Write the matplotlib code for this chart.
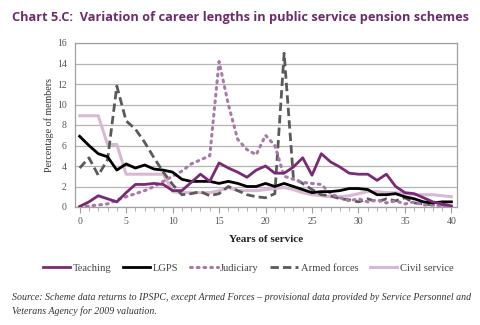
import numpy as np
import matplotlib.pyplot as plt

years = np.arange(0, 41)

teaching = [0.05, 0.5, 1.1, 0.8, 0.5, 1.4, 2.2, 2.2, 2.3, 2.2, 1.6, 1.6, 2.4, 3.2, 2.5,
            4.3, 3.8, 3.4, 2.9, 3.6, 4.0, 3.3, 3.3, 3.9, 4.8, 3.1, 5.2, 4.4, 3.9, 3.3,
            3.2, 3.2, 2.6, 3.2, 2.0, 1.4, 1.3, 0.9, 0.5, 0.3, 0.1]
lgps = [6.9, 6.0, 5.2, 4.9, 3.6, 4.2, 3.8, 4.1, 3.7, 3.6, 3.4, 2.7, 2.5, 2.5, 2.5,
        2.3, 2.5, 2.3, 2.0, 2.0, 2.3, 2.0, 2.3, 2.0, 1.7, 1.4, 1.5, 1.5, 1.6, 1.8,
        1.8, 1.7, 1.2, 1.2, 1.3, 1.0, 0.8, 0.5, 0.4, 0.5, 0.5]
judiciary = [0.0, 0.1, 0.2, 0.3, 0.7, 1.0, 1.3, 1.6, 2.0, 2.5, 3.0, 3.5, 4.2, 4.6, 5.0,
             14.2, 10.0, 6.6, 5.6, 5.1, 7.0, 6.0, 3.0, 2.7, 2.4, 2.3, 2.2, 1.3, 0.9, 0.6,
             0.8, 0.5, 0.7, 0.4, 0.6, 0.3, 0.5, 0.2, 0.2, 0.1, 0.0]
armed = [3.8, 4.8, 3.1, 4.6, 11.8, 8.4, 7.6, 6.3, 4.8, 3.4, 2.2, 1.2, 1.3, 1.5, 1.1,
         1.3, 2.0, 1.6, 1.2, 1.0, 0.9, 1.3, 15.0, 2.8, 2.3, 1.7, 1.2, 1.1, 0.8, 0.7,
         0.5, 0.8, 0.5, 0.8, 0.6, 0.9, 0.4, 0.3, 0.2, 0.2, 0.1]
civil = [8.9, 8.9, 8.9, 6.1, 6.1, 3.2, 3.2, 3.2, 3.2, 3.2, 1.5, 1.4, 1.4, 1.4, 1.4,
         1.6, 1.9, 1.6, 1.6, 1.6, 1.7, 1.8, 1.9, 1.7, 1.4, 1.2, 1.1, 1.0, 1.0, 1.1,
         1.3, 1.5, 1.5, 1.4, 1.4, 1.3, 1.2, 1.2, 1.2, 1.1, 1.0]

serif = ["Liberation Serif", "DejaVu Serif"]

fig = plt.figure(figsize=(4.8, 3.25), dpi=100)
ax = fig.add_axes([75/480, 1 - 207/325, (457-75)/480, (207-43)/325])

ax.plot(years, teaching, color="#7a2a74", lw=2, label="Teaching", zorder=5)
ax.plot(years, lgps, color="black", lw=2, label="LGPS", zorder=4)
ax.plot(years, judiciary, color="#a87aa8", lw=2.2, linestyle=(0, (0.6, 1.6)),
        dash_capstyle="round", label="Judiciary", zorder=3)
ax.plot(years, armed, color="#5a5a5a", lw=2, linestyle=(0, (3, 1.5)), label="Armed forces", zorder=2)
ax.plot(years, civil, color="#d9b8d5", lw=2.2, label="Civil service", zorder=1)

ax.set_xlim(-0.5, 40.6)
ax.set_ylim(0, 16)
ax.set_yticks(np.arange(0, 17, 2))
ax.set_xticks(np.arange(0, 41, 5))
ax.set_xticks(np.arange(0, 41, 1), minor=True)
ax.yaxis.grid(True, color="#b5b5b5", lw=0.9)
ax.set_axisbelow(True)
for s in ax.spines.values():
    s.set_color("#a0a0a0")
    s.set_linewidth(0.9)
ax.tick_params(axis="y", length=0, labelsize=7, labelcolor="#555555", pad=6)
ax.tick_params(axis="x", which="both", direction="out", color="#a0a0a0",
               labelsize=7, labelcolor="#555555")
ax.tick_params(axis="x", which="major", length=4)
ax.tick_params(axis="x", which="minor", length=3)
for lab in ax.get_xticklabels() + ax.get_yticklabels():
    lab.set_family(serif)

ax.set_ylabel("Percentage of members", family=serif, fontsize=7.2, color="#333333", labelpad=2)
ax.set_xlabel("Years of service", family=serif, fontsize=8, fontweight="bold", color="#222222", labelpad=6)

fig.text(12/480, 1 - 18/325, "Chart 5.C:  Variation of career lengths in public service pension schemes",
         family=["Open Sans", "DejaVu Sans"], fontweight="bold", fontsize=9.2, color="#6b2c6b",
         va="center", ha="left")

leg = fig.legend(loc="center", bbox_to_anchor=(248/480, 1 - 268/325), ncol=5, frameon=False,
                 prop={"family": serif, "size": 7.6}, handlelength=2.6, handletextpad=0.25,
                 columnspacing=1.1, labelcolor="#444444")

fig.text(12/480, 1 - 297/325,
         "Source: Scheme data returns to IPSPC, except Armed Forces \u2013 provisional data provided by Service Personnel and",
         family=serif, style="italic", fontsize=7.1, color="#333333", va="center")
fig.text(12/480, 1 - 311/325, "Veterans Agency for 2009 valuation.",
         family=serif, style="italic", fontsize=7.1, color="#333333", va="center")

fig.savefig("out.png", dpi=100)
